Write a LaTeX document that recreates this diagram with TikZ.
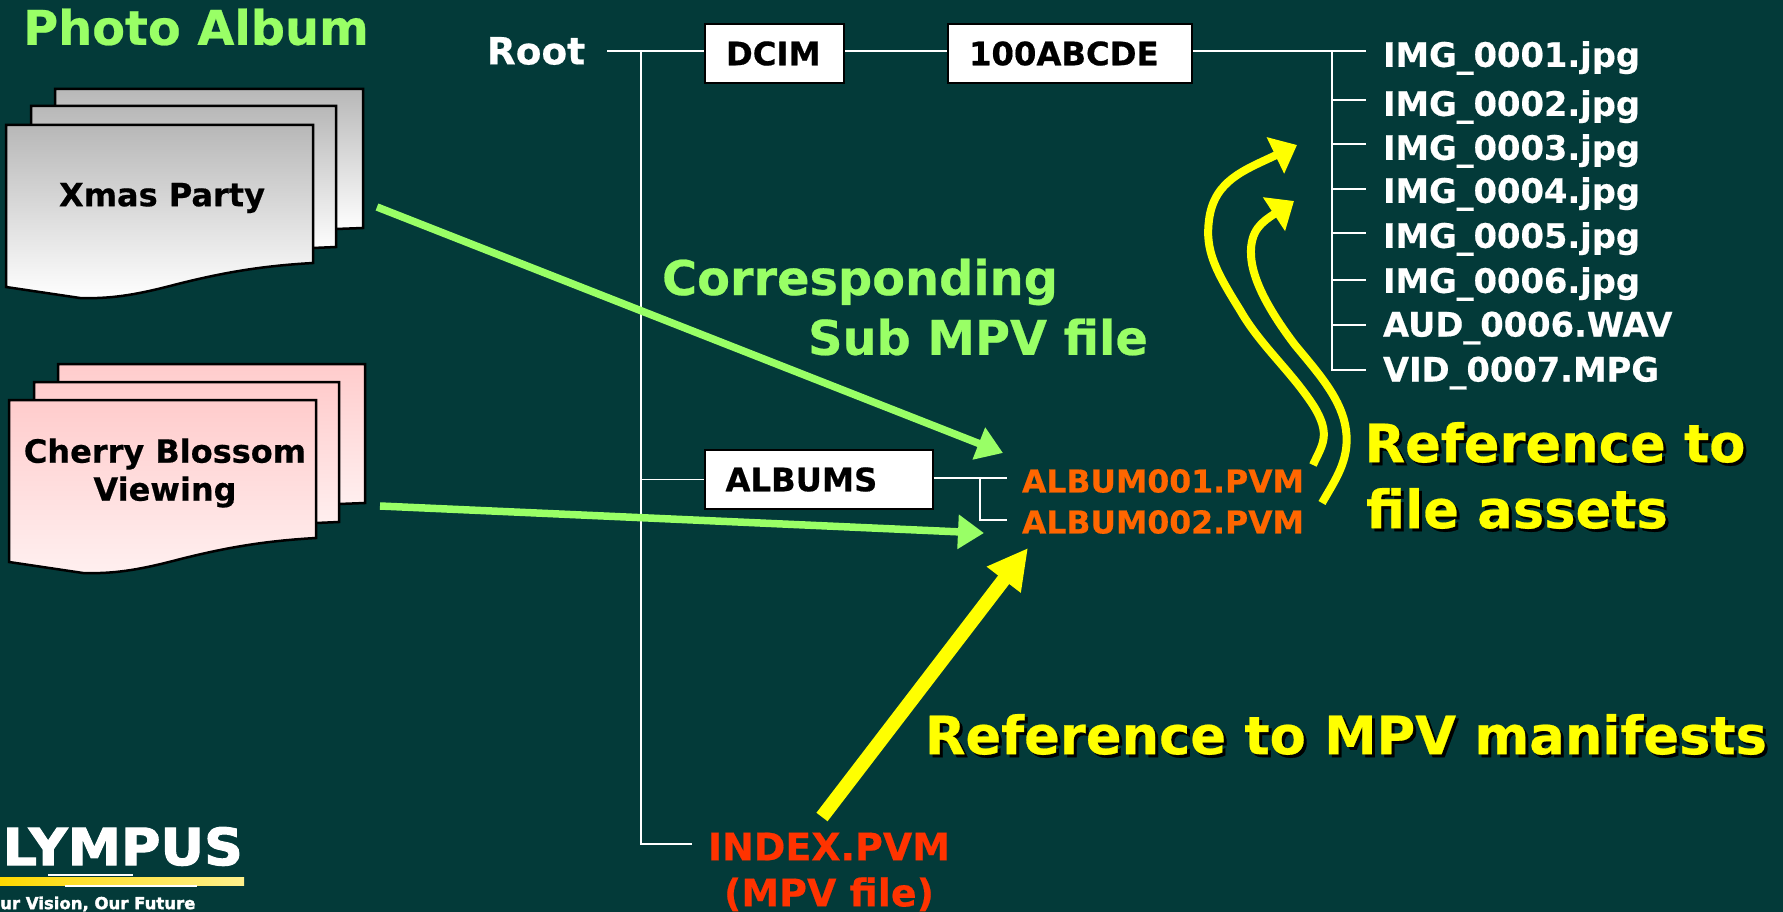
\documentclass[tikz,border=0pt]{standalone}
\usepackage{fontspec}
\setmainfont{DejaVu Sans}[BoldFeatures={FakeBold=0.5}]
\newfontfamily\logofont{DejaVu Sans Bold}[FakeBold=2]
\usetikzlibrary{arrows.meta}
\definecolor{slidebg}{HTML}{033A39}
\definecolor{albumgreen}{HTML}{99FF66}
\definecolor{pvmorange}{HTML}{FF6600}
\definecolor{pvmred}{HTML}{FF3300}
\definecolor{refyellow}{HTML}{FFFF00}
\definecolor{logogold}{HTML}{FFD800}
\definecolor{logopale}{HTML}{FFF08C}
\newcommand{\shadowtxt}[1]{\rlap{\kern3pt\raisebox{-3pt}{\color{black}#1}}#1}
\begin{document}
\begin{tikzpicture}[x=1pt, y=-1pt,
    treeline/.style={draw=white, line width=1.6pt},
    dirbox/.style={rectangle, draw=black, line width=2pt, fill=white, align=left, inner xsep=21pt, minimum height=59pt, font=\fontsize{32.3}{38}\selectfont\bfseries},
    filename/.style={anchor=west, inner sep=0pt, outer xsep=17pt, text=white, font=\fontsize{33.7}{38}\selectfont\bfseries},
    pvmname/.style={anchor=west, inner sep=0pt, outer xsep=15pt, text=pvmorange, font=\fontsize{31.5}{36}\selectfont\bfseries},
    greentext/.style={inner sep=0pt, text=albumgreen, font=\fontsize{47.8}{54}\selectfont\bfseries},
    yellowtext/.style={inner sep=0pt, text=refyellow, font=\fontsize{52.7}{60}\selectfont\bfseries},
    sheettext/.style={inner sep=0pt, align=center, text=black, font=\fontsize{32}{38}\selectfont\bfseries},
    graysheet/.style={draw=black, line width=2.5pt, top color=black!28, bottom color=white},
    pinksheet/.style={draw=black, line width=2.5pt, top color=red!20!white, bottom color=red!6!white},
    greenarrow/.style={-{Triangle[length=26pt, width=33pt]}, albumgreen, line width=7.5pt},
    assetarrow/.style={-{Triangle[length=24pt, width=39pt]}, refyellow, line width=8pt}
]
    \useasboundingbox[fill=slidebg] (0,0) rectangle (1783,912);

    % Left side: photo albums
    \node[greentext] (photoalbum) at (196,27) {Photo Album};

    \draw[graysheet] (55,89) -- (363,89) -- (363,228) -- (336,229) -- (55,232) -- cycle;
    \draw[graysheet] (31,106) -- (336,106) -- (336,247) -- (313,248) -- (31,252) -- cycle;
    \draw[graysheet] (6,125) -- (313,125) -- (313,263) .. controls (260,266) and (220,273) .. (170,286) .. controls (135,295) and (110,299) .. (80,298) -- (6,287) -- cycle;
    \node[sheettext] (xmas) at (162,198) {Xmas Party};

    \draw[pinksheet] (58,364) -- (365,364) -- (365,503) -- (339,504) -- (58,507) -- cycle;
    \draw[pinksheet] (34,382) -- (339,382) -- (339,522) -- (316,523) -- (34,527) -- cycle;
    \draw[pinksheet] (9,400) -- (316,400) -- (316,538) .. controls (263,541) and (223,548) .. (173,561) .. controls (138,570) and (113,574) .. (83,573) -- (9,562) -- cycle;
    \node[sheettext] (cherry) at (165,473) {Cherry Blossom\\Viewing};

    % Directory tree
    \node[inner sep=0pt, outer xsep=22pt, text=white, font=\fontsize{37.5}{42}\selectfont\bfseries] (root) at (536,51) {Root};
    \node[dirbox, text width=97pt] (dcim) at (774.5,53.5) {DCIM};
    \node[dirbox, text width=202pt] (dirabcde) at (1070,53.5) {100ABCDE};
    \node[dirbox, text width=186pt] (albums) at (818.5,479.5) {ALBUMS};

    \coordinate (trunktop) at (641,51);
    \coordinate (trunkend) at (641,844);
    \coordinate (indextick) at (692,844);
    \coordinate (albumsjoin) at (932,478);
    \coordinate (albumsfork) at (980,478);
    \coordinate (filetop) at (1332,51);
    \coordinate (fileend) at (1332,370);

    \draw[treeline] (root.east) -- (root.east -| dcim.west);
    \draw[treeline] (dcim.east |- root.east) -- (dirabcde.west |- root.east);
    \draw[treeline] (trunktop) -- (trunkend) -- (indextick);
    \draw[treeline] (trunktop |- albums.west) -- (albums.west);

    % Files of 100ABCDE
    \node[filename] (img1) at (1366,58) {IMG\_0001.jpg};
    \node[filename] (img2) at (1366,107) {IMG\_0002.jpg};
    \node[filename] (img3) at (1366,151) {IMG\_0003.jpg};
    \node[filename] (img4) at (1366,194) {IMG\_0004.jpg};
    \node[filename] (img5) at (1366,239) {IMG\_0005.jpg};
    \node[filename] (img6) at (1366,284) {IMG\_0006.jpg};
    \node[filename] (aud6) at (1366,328) {AUD\_0006.WAV};
    \node[filename] (vid7) at (1366,373) {VID\_0007.MPG};

    \draw[treeline] (dirabcde.east |- root.east) -- (root.east -| img1.west);
    \draw[treeline] (filetop) -- (fileend) -- (fileend -| vid7.west);
    \draw[treeline] (filetop |- 0,100) -- (img2.west |- 0,100);
    \draw[treeline] (filetop |- 0,144) -- (img3.west |- 0,144);
    \draw[treeline] (filetop |- 0,189) -- (img4.west |- 0,189);
    \draw[treeline] (filetop |- 0,233) -- (img5.west |- 0,233);
    \draw[treeline] (filetop |- 0,280) -- (img6.west |- 0,280);
    \draw[treeline] (filetop |- 0,325) -- (aud6.west |- 0,325);

    % MPV files
    \node[pvmname] (album1) at (1007,481) {ALBUM001.PVM};
    \node[pvmname] (album2) at (1007,522) {ALBUM002.PVM};
    \node[inner sep=0pt, align=center, text=pvmred, font=\fontsize{38}{46}\selectfont\bfseries] (indexpvm) at (829,872) {INDEX.PVM\\(MPV file)};

    \draw[treeline] (albumsjoin -| albums.east) -- (albumsjoin -| album1.west);
    \draw[treeline] (albumsfork) -- (albumsfork |- 0,520) -- (album2.west |- 0,520);

    % Labels
    \node[greentext] (corresponding) at (860,282) {Corresponding};
    \node[greentext] (submpv) at (978,337) {Sub MPV file};
    \node[yellowtext] (refassets1) at (1555,444) {\shadowtxt{Reference to}};
    \node[yellowtext] (refassets2) at (1517,510) {\shadowtxt{file assets}};
    \node[yellowtext] (refmanifest) at (1346,736) {\shadowtxt{Reference to MPV manifests}};

    % Arrows
    \coordinate (xmasend) at (377,207);
    \coordinate (xmastip) at (1003,453);
    \coordinate (cherryend) at (380,506);
    \coordinate (cherrytip) at (984,533);
    \coordinate (indexend) at (822,817);
    \coordinate (indextip) at (1028,548);
    \coordinate (assetonestart) at (1313,465);
    \coordinate (assetonetip) at (1297,145);
    \coordinate (assettwostart) at (1322,503);
    \coordinate (assettwotip) at (1294,201);

    \draw[greenarrow] (xmasend) -- (xmastip);
    \draw[greenarrow] (cherryend) -- (cherrytip);
    \draw[-{Triangle[length=40pt, width=40pt]}, refyellow, line width=14pt] (indexend) -- (indextip);

    \draw[assetarrow] (assetonestart) .. controls (1322,445) and (1332,435) .. (1313,405)
        .. controls (1290,370) and (1260,345) .. (1240,310)
        .. controls (1215,270) and (1205,250) .. (1209,220)
        .. controls (1214,180) and (1245,170) .. (assetonetip);
    \draw[assetarrow] (assettwostart) .. controls (1335,480) and (1350,460) .. (1346,430)
        .. controls (1342,400) and (1320,375) .. (1295,345)
        .. controls (1270,312) and (1252,280) .. (1251,255)
        .. controls (1250,230) and (1262,222) .. (assettwotip);

    % Logo
    \node[inner sep=0pt, anchor=south east, text=white, font=\logofont] (logoname) at (243,866) {\resizebox{240pt}{38pt}{LYMPUS}};
    \fill[left color=logogold, right color=logopale] (0,877) rectangle (244,885);
    \fill[white] (48,874) rectangle (133,876);
    \fill[white] (65,885) rectangle (197,887);
    \node[inner sep=0pt, anchor=west, text=white, font=\logofont\fontsize{16.5}{19}\selectfont] (logotag) at (0,904) {ur Vision, Our Future};
\end{tikzpicture}
\end{document}
